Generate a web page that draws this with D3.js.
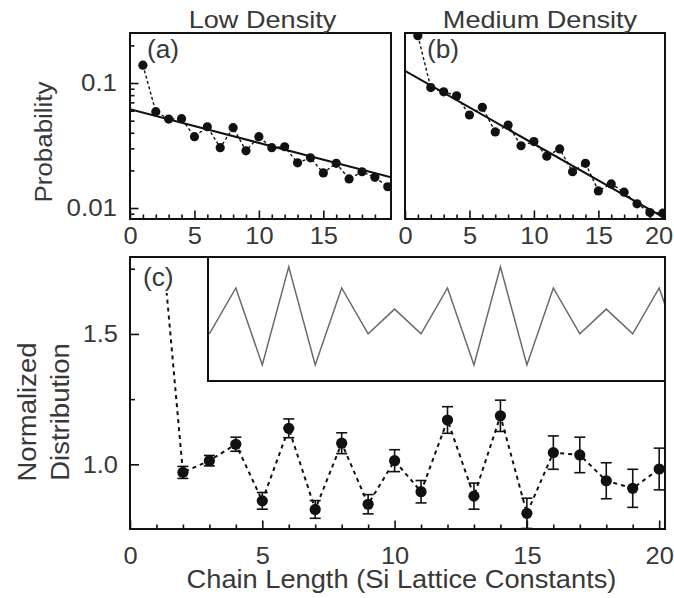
<!DOCTYPE html>
<html>
<head>
<meta charset="utf-8">
<script src="https://cdn.jsdelivr.net/npm/d3@7"></script>
<style>
  html, body { margin: 0; padding: 0; background: #fff; }
  svg { display: block; font-family: "Liberation Sans", Arial, Helvetica, sans-serif; }
</style>
</head>
<body>
<svg id="chart" width="674" height="598"></svg>
<script>
// ---- data -------------------------------------------------------------
const chainLength = [1, 2, 3, 4, 5, 6, 7, 8, 9, 10, 11, 12, 13, 14, 15, 16, 17, 18, 19, 20];

// (a) low density chain-length probability
const lowDensityProb = [0.139, 0.059, 0.0515, 0.0518, 0.0372, 0.0447, 0.0304, 0.0439, 0.0287, 0.0372,
                        0.0304, 0.0309, 0.0230, 0.0252, 0.0191, 0.0228, 0.0171, 0.0195, 0.0176, 0.0148];
// (b) medium density chain-length probability
const mediumDensityProb = [0.239, 0.092, 0.085, 0.079, 0.0555, 0.0639, 0.0406, 0.0461, 0.0315, 0.034,
                           0.026, 0.0297, 0.0195, 0.0228, 0.0137, 0.0156, 0.0134, 0.0108, 0.0092, 0.0091];

// exponential fits (end points of the straight lines on the log axis)
const lowFitX = [0, 20.25];
const lowFitProb = [0.0616, 0.0176];
const mediumFitX = [0, 20.17];
const mediumFitProb = [0.125, 0.0083];

// (c) normalized distribution with error bars
const normalizedDist = [2.09, 0.969, 1.014, 1.077, 0.860, 1.138, 0.827, 1.081, 0.847, 1.014,
                        0.895, 1.170, 0.878, 1.186, 0.812, 1.045, 1.036, 0.937, 0.908, 0.982];
const normalizedErr = [0, 0.023, 0.02, 0.027, 0.032, 0.036, 0.034, 0.04, 0.037, 0.042,
                       0.043, 0.051, 0.05, 0.06, 0.058, 0.064, 0.068, 0.069, 0.073, 0.08];

// inset: model oscillation (arbitrary units)
const modelLength = [3, 4, 5, 6, 7, 8, 9, 10, 11, 12, 13, 14, 15, 16, 17, 18, 19, 20, 21];
const modelValue = [0.38, 0.75, 0.13, 0.92, 0.13, 0.75, 0.38, 0.58, 0.38, 0.75,
                    0.13, 0.92, 0.13, 0.75, 0.38, 0.58, 0.38, 0.75, 0.13];

// ticks
const topMajorTicks = [0, 5, 10, 15];
const topMajorTicksB = [0, 5, 10, 15, 20];
const unitTicks = [1, 2, 3, 4, 6, 7, 8, 9, 11, 12, 13, 14, 16, 17, 18, 19];
const probMajorTicks = [0.01, 0.1];
const probMinorTicks = [0.009, 0.02, 0.03, 0.04, 0.05, 0.06, 0.07, 0.08, 0.09, 0.2];
const bottomMajorTicks = [0, 5, 10, 15, 20];
const normMajorTicks = [1.0, 1.5];
const normMinorTicks = [1.25, 1.75];

// ---- drawing ----------------------------------------------------------
const svg = d3.select("#chart");
const ink = "#111";
const textInk = "#383838";

// panel boxes
const boxA = { left: 130, right: 391, top: 33, bottom: 219 };
const boxB = { left: 405, right: 665, top: 33, bottom: 219 };
const boxC = { left: 130, right: 665, top: 257, bottom: 529 };
const boxInset = { left: 208, right: 665, top: 257, bottom: 381 };

const xA = d3.scaleLinear().domain([0, 20.25]).range([boxA.left, boxA.right]);
const xB = d3.scaleLinear().domain([0, 20.17]).range([boxB.left, boxB.right]);
const yProbA = d3.scaleLog().domain([0.00817, 0.2512]).range([boxA.bottom, boxA.top]);
const yProbB = d3.scaleLog().domain([0.00817, 0.2512]).range([boxB.bottom, boxB.top]);
const xC = d3.scaleLinear().domain([0, 20.22]).range([boxC.left, boxC.right]);
const yC = d3.scaleLinear().domain([0.752, 1.795]).range([boxC.bottom, boxC.top]);
const yInset = d3.scaleLinear().domain([0, 1]).range([boxInset.bottom, boxInset.top]);

function clip(id, b) {
  svg.append("clipPath").attr("id", id)
    .append("rect").attr("x", b.left).attr("y", b.top)
    .attr("width", b.right - b.left).attr("height", b.bottom - b.top);
  return "url(#" + id + ")";
}

// text stretched slightly along its baseline
function label(str, x, y, opts) {
  const o = Object.assign({ size: 24, sx: 1.08, rotate: 0, anchor: "middle" }, opts || {});
  svg.append("text")
    .attr("transform", `translate(${x},${y}) rotate(${o.rotate}) scale(${o.sx},1)`)
    .attr("text-anchor", o.anchor)
    .attr("font-size", o.size)
    .attr("fill", textInk)
    .text(str);
}

function styleAxis(g, sx) {
  g.select(".domain").remove();
  g.selectAll(".tick line").attr("stroke", ink).attr("stroke-width", 1.6);
  g.selectAll(".tick text").attr("fill", textInk).attr("font-size", 24)
    .attr("font-family", "Liberation Sans, Arial, sans-serif");
  if (sx) {
    g.selectAll(".tick text").each(function () {
      const t = d3.select(this);
      const x = +t.attr("x") || 0;
      t.attr("x", x / sx).attr("transform", `scale(${sx},1)`);
    });
  }
}

function bottomTicks(xs, box, majors, labels, minors, pad) {
  const gMin = svg.append("g").attr("transform", `translate(0,${box.bottom})`)
    .call(d3.axisBottom(xs).tickValues(minors).tickSize(-4.5).tickFormat(""));
  styleAxis(gMin);
  const gMaj = svg.append("g").attr("transform", `translate(0,${box.bottom})`)
    .call(d3.axisBottom(xs).tickValues(majors).tickSize(-8.5).tickPadding(pad)
      .tickFormat((d, i) => labels[i]));
  styleAxis(gMaj, 1.06);
  return gMaj;
}

function frame(b) {
  svg.append("rect").attr("x", b.left).attr("y", b.top)
    .attr("width", b.right - b.left).attr("height", b.bottom - b.top)
    .attr("fill", "none").attr("stroke", ink).attr("stroke-width", 2);
}

function probPanel(xs, ys, box, values, fitX, fitY, clipId) {
  const cp = clip(clipId, box);
  const g = svg.append("g").attr("clip-path", cp);
  const pts = chainLength.map((c, i) => [xs(c), ys(values[i])]);
  g.append("path").attr("d", d3.line()(pts))
    .attr("fill", "none").attr("stroke", ink).attr("stroke-width", 1.4)
    .attr("stroke-dasharray", "3,2.5");
  g.append("path").attr("d", d3.line()(fitX.map((x, i) => [xs(x), ys(fitY[i])])))
    .attr("fill", "none").attr("stroke", ink).attr("stroke-width", 2);
  g.selectAll("circle.pt").data(pts).join("circle").attr("class", "pt")
    .attr("cx", d => d[0]).attr("cy", d => d[1]).attr("r", 4.6).attr("fill", ink);
}

// ---- panel (a) ----
probPanel(xA, yProbA, boxA, lowDensityProb, lowFitX, lowFitProb, "clipA");
bottomTicks(xA, boxA, topMajorTicks, ["0", "5", "10", "15"], unitTicks, 8);
{
  const gMin = svg.append("g").attr("transform", `translate(${boxA.left},0)`)
    .call(d3.axisLeft(yProbA).tickValues(probMinorTicks).tickSize(-4.5).tickFormat(""));
  styleAxis(gMin);
  const gMaj = svg.append("g").attr("transform", `translate(${boxA.left},0)`)
    .call(d3.axisLeft(yProbA).tickValues(probMajorTicks).tickSize(-8.5).tickPadding(13)
      .tickFormat(d3.format("~g")));
  styleAxis(gMaj, 1.08);
}
frame(boxA);
label("(a)", 147, 58, { anchor: "start", size: 25, sx: 1.05 });
label("Low Density", (boxA.left + boxA.right) / 2 + 2, 28, { size: 24, sx: 1.13 });

// ---- panel (b) ----
probPanel(xB, yProbB, boxB, mediumDensityProb, mediumFitX, mediumFitProb, "clipB");
{
  const gB = bottomTicks(xB, boxB, topMajorTicksB, ["0", "5", "10", "15", "20"], unitTicks, 8);
  // keep the last label inside the page edge
  gB.selectAll(".tick text").filter(d => d === 20).attr("dx", -4);
}
frame(boxB);
label("(b)", 427, 58, { anchor: "start", size: 25, sx: 1.05 });
label("Medium Density", (boxB.left + boxB.right) / 2 + 5, 28, { size: 24, sx: 1.13 });

label("Probability", 52, 142, { rotate: -90, size: 24, sx: 1.08 });

// ---- panel (c) ----
{
  const cp = clip("clipC", boxC);
  const g = svg.append("g").attr("clip-path", cp);
  const pts = chainLength.map((c, i) => [xC(c), yC(normalizedDist[i])]);
  g.append("path").attr("d", d3.line()(pts))
    .attr("fill", "none").attr("stroke", ink).attr("stroke-width", 2)
    .attr("stroke-dasharray", "4,4");
  const bars = chainLength.map((c, i) => ({ x: c, y: normalizedDist[i], e: normalizedErr[i] }))
    .filter(d => d.e > 0);
  const eb = g.selectAll("g.eb").data(bars).join("g").attr("class", "eb")
    .attr("stroke", ink).attr("stroke-width", 1.6);
  eb.append("line").attr("x1", d => xC(d.x)).attr("x2", d => xC(d.x))
    .attr("y1", d => yC(d.y - d.e)).attr("y2", d => yC(d.y + d.e));
  eb.append("line").attr("x1", d => xC(d.x) - 5.5).attr("x2", d => xC(d.x) + 5.5)
    .attr("y1", d => yC(d.y - d.e)).attr("y2", d => yC(d.y - d.e));
  eb.append("line").attr("x1", d => xC(d.x) - 5.5).attr("x2", d => xC(d.x) + 5.5)
    .attr("y1", d => yC(d.y + d.e)).attr("y2", d => yC(d.y + d.e));
  g.selectAll("circle.pt").data(bars).join("circle").attr("class", "pt")
    .attr("cx", d => xC(d.x)).attr("cy", d => yC(d.y)).attr("r", 5.6).attr("fill", ink);
}

// inset: model curve
{
  svg.append("rect").attr("x", boxInset.left).attr("y", boxInset.top)
    .attr("width", boxInset.right - boxInset.left).attr("height", boxInset.bottom - boxInset.top)
    .attr("fill", "#fff");
  const cp = clip("clipInset", boxInset);
  svg.append("path").attr("clip-path", cp)
    .attr("d", d3.line()(modelLength.map((c, i) => [xC(c), yInset(modelValue[i])])))
    .attr("fill", "none").attr("stroke", "#6a6a6a").attr("stroke-width", 1.5);
  svg.append("rect").attr("x", boxInset.left).attr("y", boxInset.top)
    .attr("width", boxInset.right - boxInset.left).attr("height", boxInset.bottom - boxInset.top)
    .attr("fill", "none").attr("stroke", ink).attr("stroke-width", 2);
}

bottomTicks(xC, boxC, bottomMajorTicks, ["0", "5", "10", "15", "20"], unitTicks, 18);
{
  const gMin = svg.append("g").attr("transform", `translate(${boxC.left},0)`)
    .call(d3.axisLeft(yC).tickValues(normMinorTicks).tickSize(-5).tickFormat(""));
  styleAxis(gMin);
  const gMaj = svg.append("g").attr("transform", `translate(${boxC.left},0)`)
    .call(d3.axisLeft(yC).tickValues(normMajorTicks).tickSize(-9).tickPadding(12)
      .tickFormat(d3.format(".1f")));
  styleAxis(gMaj, 1.06);
}
frame(boxC);

// panel label with a white backing so the steep first segment stays behind it
svg.append("rect").attr("x", 140).attr("y", boxC.top + 1).attr("width", 38).attr("height", 35).attr("fill", "#fff");
label("(c)", 143, 286, { anchor: "start", size: 25, sx: 1.05 });

label("Normalized", 36, 412, { rotate: -90, size: 25, sx: 1.1 });
label("Distribution", 69, 412, { rotate: -90, size: 25, sx: 1.1 });
label("Chain Length (Si Lattice Constants)", (boxC.left + boxC.right) / 2 + 4, 588, { size: 25, sx: 1.09 });
</script>
</body>
</html>
